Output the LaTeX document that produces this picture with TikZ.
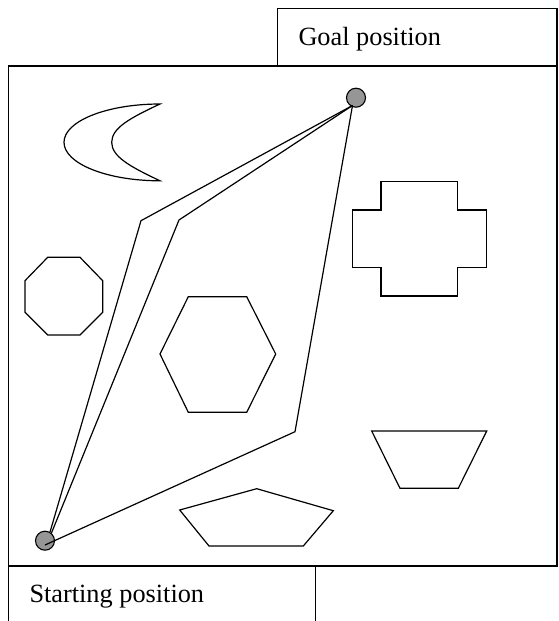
\documentclass[tikz,border=0pt]{standalone}
\usepackage{fontspec}
\setmainfont{Liberation Serif}
\definecolor{dotgray}{RGB}{150,150,150}
\begin{document}
\begin{tikzpicture}[x=1pt,y=-1pt,
  frame/.style={line width=1.4pt},
  obst/.style={line width=1.2pt, line join=miter},
  route/.style={line width=1.2pt},
  dot/.style={circle, draw, line width=1.1pt, fill=dotgray, minimum size=19pt, inner sep=0pt},
  label/.style={anchor=base west, inner sep=0pt, font=\fontsize{26.3}{30}\selectfont}]
\useasboundingbox (0,0) rectangle (558,621);
% frames
\draw[frame] (8.3,66) rectangle (557,566);
\draw[frame] (277.3,66) -- (277.3,8.3) -- (557,8.3) -- (557,66);
\draw[frame] (8.3,566) -- (8.3,621.5);
\draw[frame] (315.7,566) -- (315.7,621.5);
\node[label] (goaltxt) at (298.3,45.7) {Goal position};
\node[label] (starttxt) at (29.3,602.3) {Starting position};
% moon
\draw[obst] (160,104) .. controls (107,104) and (64,121) .. (64,142.3)
  .. controls (64,163.6) and (107,180.8) .. (160,180.8)
  .. controls (130,166.6) and (111.7,156.6) .. (111.7,142.3)
  .. controls (111.7,128) and (130,118) .. (160,104) -- cycle;
% octagon
\draw[obst] (47.7,257.3) -- (80,257.3) -- (102.7,280.7) -- (102.7,312.3) -- (80,335)
  -- (47.7,335) -- (25,312.3) -- (25,280.7) -- cycle;
% hexagon
\draw[obst] (188.3,296.7) -- (246.7,296.7) -- (275.7,354) -- (246.7,412.3)
  -- (188.3,412.3) -- (160,354) -- cycle;
% cross
\draw[obst] (381,181.7) -- (457.7,181.7) -- (457.7,210) -- (486.7,210) -- (486.7,267.7)
  -- (457.7,267.7) -- (457.7,296) -- (381,296) -- (381,267.7) -- (352.3,267.7)
  -- (352.3,210) -- (381,210) -- cycle;
% trapezoid
\draw[obst] (371.7,431) -- (486.7,431) -- (458.3,488.3) -- (400,488.3) -- cycle;
% pentagon
\draw[obst] (256.7,488.7) -- (333.3,510.7) -- (303.3,546) -- (209,546) -- (179.7,510) -- cycle;
% start and goal
\node[dot] (start) at (45,540.7) {};
\node[dot] (goal) at (356,97.7) {};
\coordinate (gend) at (352.5,105.5);
\coordinate (send) at (45,545);
\coordinate (k1) at (141,220.7);
\coordinate (k2) at (179,220);
\coordinate (k3) at (295,431.7);
\draw[route] (start.60) -- (k1) -- (gend);
\draw[route] (start.50) -- (k2) -- (gend);
\draw[route] (send) -- (k3) -- (gend);
\end{tikzpicture}
\end{document}
